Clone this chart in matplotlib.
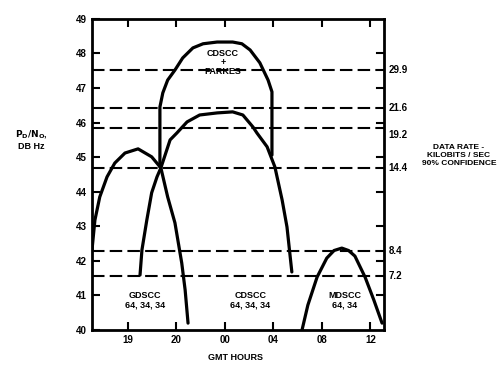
import matplotlib
matplotlib.use("Agg")
import matplotlib.pyplot as plt
import matplotlib.transforms as mtransforms

plt.rcParams['font.family'] = ['Liberation Sans', 'DejaVu Sans']
plt.rcParams['font.weight'] = 'bold'

# GMT hour ticks, drawn at equal spacing like the original
hour_labels = ['19', '20', '00', '04', '08', '12']

# dashed data-rate thresholds (dB Hz) and their labels (kbit/s)
rate_levels = [47.52, 46.42, 45.85, 44.69, 42.30, 41.56]
rate_labels = ['29.9', '21.6', '19.2', '14.4', '8.4', '7.2']

# station coverage curves, x in hour-tick index units
gdscc_x = [-0.74, -0.68, -0.58, -0.43, -0.27, -0.06, 0.21, 0.49, 0.68, 0.82, 0.97, 1.11, 1.18, 1.24]
gdscc_y = [42.32, 43.18, 43.85, 44.43, 44.83, 45.12, 45.24, 45.01, 44.69, 43.85, 43.10, 41.94,
           41.16, 40.20]

cdscc_x = [0.25, 0.29, 0.39, 0.49, 0.60, 0.68, 0.87, 1.01, 1.22, 1.48, 1.84, 2.16, 2.37, 2.58,
           2.66, 2.87, 3.03, 3.18, 3.28, 3.38]
cdscc_y = [41.59, 42.32, 43.18, 43.97, 44.43, 44.69, 45.50, 45.70, 46.02, 46.22, 46.28, 46.31,
           46.22, 45.87, 45.70, 45.30, 44.72, 43.76, 42.98, 41.68]

parkes_x = [0.66, 0.66, 0.72, 0.82, 0.97, 1.13, 1.34, 1.55, 1.84, 2.16, 2.35, 2.52, 2.72, 2.89,
            2.97, 2.97]
parkes_y = [44.72, 46.45, 46.86, 47.23, 47.52, 47.87, 48.16, 48.28, 48.33, 48.33, 48.28, 48.10,
            47.73, 47.23, 46.89, 45.06]

mdscc_x = [3.59, 3.71, 3.90, 4.10, 4.25, 4.41, 4.55, 4.68, 4.89, 5.07, 5.24]
mdscc_y = [40.00, 40.72, 41.53, 42.08, 42.30, 42.37, 42.30, 42.14, 41.53, 40.87, 40.20]

fig = plt.figure(figsize=(5, 3.7), dpi=100)
ax = fig.add_axes([0.184, 0.108, 0.584, 0.841])

for lvl in rate_levels:
    ax.axhline(lvl, color='black', lw=1.5, ls=(0, (6, 2.5)))

for xs, ys in [(gdscc_x, gdscc_y), (cdscc_x, cdscc_y), (parkes_x, parkes_y), (mdscc_x, mdscc_y)]:
    ax.plot(xs, ys, color='black', lw=2.3, solid_capstyle='round', solid_joinstyle='round')

ax.set_xlim(-0.74, 5.28)
ax.set_ylim(40, 49)
ax.set_xticks(range(len(hour_labels)))
ax.set_xticklabels(hour_labels)
ax.set_yticks(range(40, 50))
ax.tick_params(direction='in', length=6, width=1.5, labelsize=7, top=True, right=False)
for lab in ax.get_xticklabels() + ax.get_yticklabels():
    lab.set_fontweight('bold')
for side in ax.spines.values():
    side.set_linewidth(2)

# inner ticks along the right axis
trans_r = mtransforms.blended_transform_factory(ax.transAxes, ax.transData)
for v in range(41, 49):
    ax.plot([0.975, 1.0], [v, v], color='black', lw=1.5, transform=trans_r, clip_on=False)

for lvl, lab in zip(rate_levels, rate_labels):
    dy = -0.2 if lab == '19.2' else 0
    ax.text(1.015, lvl + dy, lab, transform=trans_r, fontsize=7, fontweight='bold',
            va='center', ha='left')

ax.text(1.96, 47.73, 'CDSCC\n+\nPARKES', fontsize=6.5, fontweight='bold', ha='center',
        va='center', linespacing=1.0)
ax.text(0.35, 40.87, 'GDSCC\n64, 34, 34', fontsize=6.5, fontweight='bold', ha='center',
        va='center', linespacing=1.1)
ax.text(2.52, 40.87, 'CDSCC\n64, 34, 34', fontsize=6.5, fontweight='bold', ha='center',
        va='center', linespacing=1.1)
ax.text(4.47, 40.87, 'MDSCC\n64, 34', fontsize=6.5, fontweight='bold', ha='center',
        va='center', linespacing=1.1)

fig.text(0.472, 0.035, 'GMT HOURS', fontsize=6.5, fontweight='bold', ha='center', va='center')
fig.text(0.062, 0.622, r'$\mathbf{P_D/N_O}$,' + '\nDB Hz', fontsize=6.5, fontweight='bold',
         ha='center', va='center', linespacing=1.3)
fig.text(0.918, 0.58, 'DATA RATE -\nKILOBITS / SEC\n90% CONFIDENCE', fontsize=6,
         fontweight='bold', ha='center', va='center', linespacing=1.2)

fig.savefig('out.png', dpi=100)
